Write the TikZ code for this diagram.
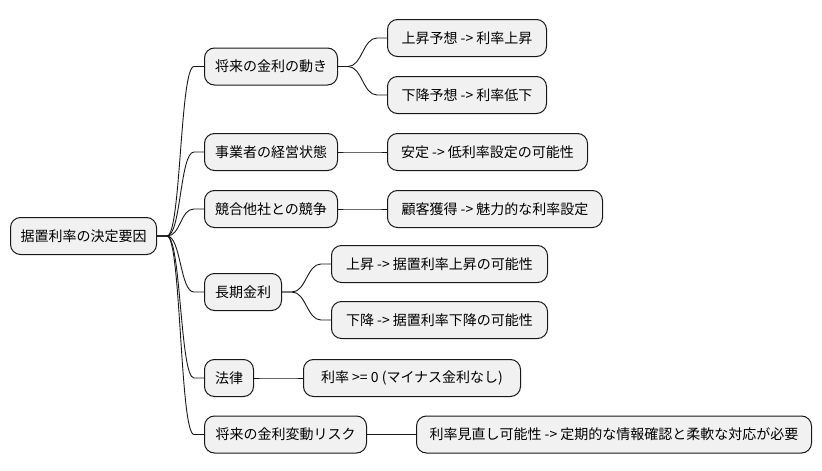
\documentclass[tikz,border=0pt]{standalone}
\usepackage{fontspec}
\setmainfont{Noto Sans CJK JP}
\usetikzlibrary{calc}
\definecolor{boxfill}{HTML}{F1F1F1}
\definecolor{boxline}{HTML}{181818}
\newcommand\mmlink[2]{\draw[link] (#1.east) -- ++(10,0) .. controls +(14,0) and +(-14,0) .. ($(#2.west)+(-10,0)$) -- (#2.west);}
\begin{document}
\begin{tikzpicture}[x=1pt,y=-1pt,
  box/.style={draw=boxline, fill=boxfill, rounded corners=10pt, line width=1pt,
    minimum height=37pt, anchor=west, inner xsep=0pt, inner ysep=0pt,
    font=\fontsize{14}{16}\selectfont, minimum width=#1},
  link/.style={draw=boxline, line width=0.9pt}]
\useasboundingbox (0,0) rectangle (822,471);
\node[box=146pt] (root) at (10,236) {据置利率の決定要因};
\node[box=133pt] (a) at (204,66.5) {将来の金利の動き};
\node[box=133pt] (b) at (204,152) {事業者の経営状態};
\node[box=133pt] (c) at (204,209) {競合他社との競争};
\node[box=77pt] (d) at (204,292) {長期金利};
\node[box=49pt] (e) at (204,378) {法律};
\node[box=162pt] (f) at (204,434.5) {将来の金利変動リスク};
\node[box=159pt] (a1) at (387,38) {上昇予想 -> 利率上昇};
\node[box=159pt] (a2) at (387,95) {下降予想 -> 利率低下};
\node[box=200pt] (b1) at (387,152) {安定 -> 低利率設定の可能性};
\node[box=215pt] (c1) at (387,209) {顧客獲得 -> 魅力的な利率設定};
\node[box=216pt] (d1) at (331,264) {上昇 -> 据置利率上昇の可能性};
\node[box=216pt] (d2) at (331,320) {下降 -> 据置利率下降の可能性};
\node[box=217pt] (e1) at (303,378) {利率 >= 0 (マイナス金利なし)};
\node[box=395pt] (f1) at (416,434.5) {利率見直し可能性 -> 定期的な情報確認と柔軟な対応が必要};
\foreach \n in {a,b,c,d,e,f}{\mmlink{root}{\n}}
\mmlink{a}{a1}
\mmlink{a}{a2}
\mmlink{b}{b1}
\mmlink{c}{c1}
\mmlink{d}{d1}
\mmlink{d}{d2}
\mmlink{e}{e1}
\mmlink{f}{f1}
\end{tikzpicture}
\end{document}
